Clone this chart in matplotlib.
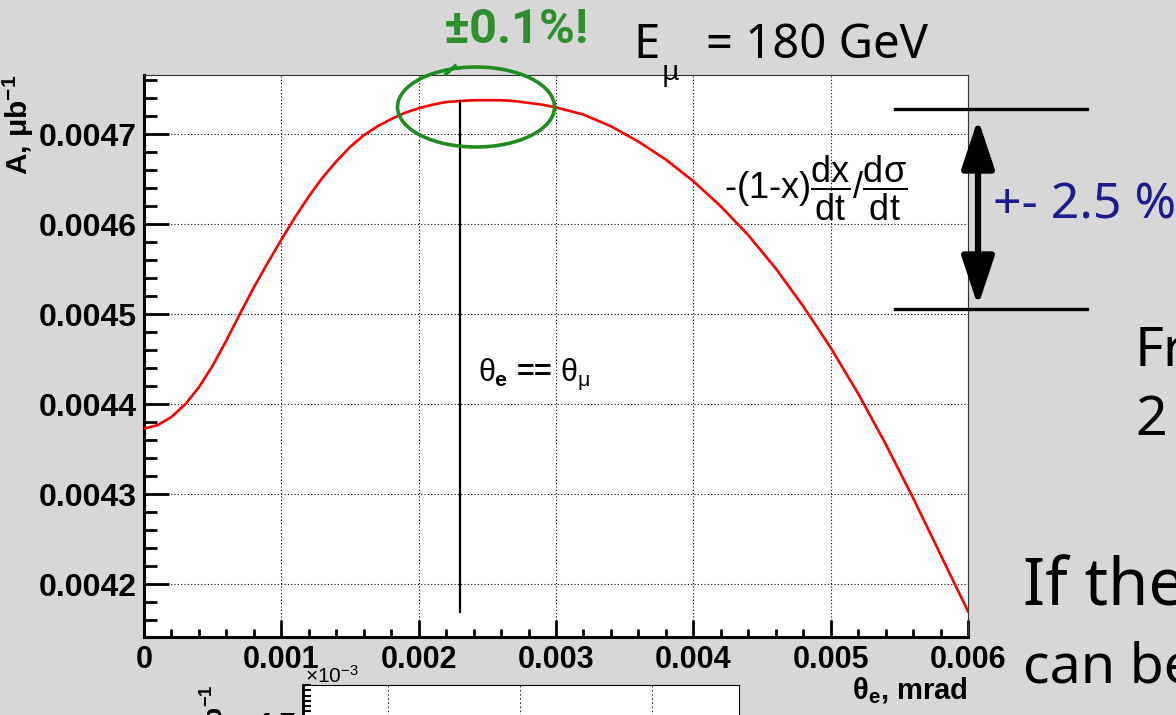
import matplotlib
matplotlib.use("Agg")
import matplotlib.pyplot as plt
from matplotlib.lines import Line2D
from matplotlib.patches import Ellipse, FancyArrowPatch
from matplotlib.ticker import MultipleLocator

W, H = 1176, 715

# curve: A vs theta_e (mrad)
theta_e = [0, 0.0001, 0.0002, 0.0003, 0.0004, 0.0005, 0.0006, 0.0007, 0.0008,
           0.0009, 0.001, 0.0011, 0.0012, 0.0013, 0.0014, 0.0015, 0.0016,
           0.0017, 0.0018, 0.0019, 0.002, 0.0021, 0.0022, 0.0023, 0.0024,
           0.0025, 0.0026, 0.0027, 0.0028, 0.0029, 0.003, 0.0032, 0.0034,
           0.0036, 0.0038, 0.004, 0.0042, 0.0044, 0.0046, 0.0048, 0.005,
           0.0052, 0.0054, 0.0056, 0.0058, 0.006]
asym = [0.004373, 0.004377, 0.004386, 0.004400, 0.004419, 0.004443, 0.004471,
        0.004501, 0.004530, 0.004557, 0.004583, 0.004608, 0.004631, 0.004652,
        0.004670, 0.004686, 0.004699, 0.004709, 0.004717, 0.004724, 0.004729,
        0.004733, 0.004736, 0.004737, 0.004738, 0.004738, 0.004738, 0.004737,
        0.004735, 0.004733, 0.004730, 0.004722, 0.004709, 0.004692, 0.004672,
        0.004648, 0.004620, 0.004588, 0.004551, 0.004509, 0.004463, 0.004412,
        0.004356, 0.004296, 0.004233, 0.004170]

peak_theta = 0.0023
peak_line = [0.004169, 0.004737]

x_ticks = [0, 0.001, 0.002, 0.003, 0.004, 0.005, 0.006]
x_labels = ["0", "0.001", "0.002", "0.003", "0.004", "0.005", "0.006"]
y_ticks = [0.0042, 0.0043, 0.0044, 0.0045, 0.0046, 0.0047]
y_labels = ["0.0042", "0.0043", "0.0044", "0.0045", "0.0046", "0.0047"]

inset_grid = [0, 1, 2]
inset_yticks = [4.3, 4.4, 4.5, 4.6, 4.7]


def fx(px):
    return px / W


def fy(py):
    return 1 - py / H


plt.rcParams["font.family"] = ["Liberation Sans", "DejaVu Sans"]
plt.rcParams["mathtext.fontset"] = "custom"
plt.rcParams["mathtext.rm"] = "Liberation Sans"
plt.rcParams["mathtext.it"] = "Liberation Sans"
plt.rcParams["mathtext.bf"] = "Liberation Sans:bold"

fig = plt.figure(figsize=(W / 100, H / 100), dpi=100)
fig.patch.set_facecolor("#d7d7d7")

ax = fig.add_axes([fx(144), fy(636.5), fx(968) - fx(144), fy(75) - fy(636.5)])
ax.plot(theta_e, asym, color="red", lw=1.9, zorder=3)
ax.plot([peak_theta, peak_theta], peak_line, color="black", lw=1.6, zorder=3)
ax.set_xlim(0, 0.006)
ax.set_ylim(0.004142, 0.004766)
ax.set_xticks(x_ticks)
ax.set_xticklabels(x_labels)
ax.set_yticks(y_ticks)
ax.set_yticklabels(y_labels)
ax.xaxis.set_minor_locator(MultipleLocator(0.0002))
ax.yaxis.set_minor_locator(MultipleLocator(0.00002))
ax.tick_params(which="both", direction="in", top=False, right=False, width=2)
ax.tick_params(axis="x", which="major", length=12, labelsize=22, pad=6)
ax.tick_params(axis="x", which="minor", length=6)
ax.tick_params(axis="y", which="major", length=18, labelsize=23, pad=5)
ax.tick_params(axis="y", which="minor", length=9)
for lab in ax.get_xticklabels() + ax.get_yticklabels():
    lab.set_fontweight("bold")
ax.grid(True, which="major", color="black", lw=0.8, linestyle=(0, (1, 2)))
for side in ["left", "bottom"]:
    ax.spines[side].set_linewidth(2.2)
for side in ["top", "right"]:
    ax.spines[side].set_linewidth(0.8)
    ax.spines[side].set_color("#333333")

ax.text(0.00243, 0.004433, r"$\theta_{\mathbf{e}}$ == $\theta_{\mu}$",
        fontsize=22, fontweight="bold", va="center")
ax.text(0.00422, 0.00464, r"-(1-x)$\dfrac{dx}{dt}/\dfrac{d\sigma}{dt}$",
        fontsize=26, va="center")

fig.text(fx(18), fy(75), r"A, μb$^{\mathbf{-1}}$", rotation=90, ha="center",
         va="top", fontsize=21.5, fontweight="bold")
fig.text(fx(968), fy(691), r"θ$_{\mathbf{e}}$, mrad", ha="right", va="center",
         fontsize=21, fontweight="bold")

# slide annotations
slide = ["Noto Sans", "DejaVu Sans"]
fig.text(fx(444), fy(30), "±0.1%!", family=["Roboto", "DejaVu Sans"],
         fontweight="bold", fontsize=35, color="#2f8f2f", va="center")
fig.text(fx(633), fy(45), "E", family=slide, fontsize=34, va="center")
fig.text(fx(662), fy(73), "μ", family=slide, fontsize=20, va="center")
fig.text(fx(706), fy(45), "= 180 GeV", family=slide, fontsize=34, va="center")
fig.text(fx(993), fy(206), "+- 2.5 %", family=slide, fontsize=36,
         color="#1c1c8e", va="center")
fig.text(fx(1135), fy(351), "Fr", family=slide, fontsize=40, va="center")
fig.text(fx(1135), fy(421), "2", family=slide, fontsize=40, va="center")
fig.text(fx(1023), fy(588), "If the", family=slide, fontsize=47, va="center")
fig.text(fx(1023), fy(668), "can be", family=slide, fontsize=40, va="center")

green = "#1e8c1e"
fig.add_artist(Ellipse((fx(476), fy(107)), fx(157), 80 / H, fill=False,
                       ec=green, lw=2.6, transform=fig.transFigure, zorder=5))
fig.add_artist(Line2D([fx(455), fx(446)], [fy(66), fy(74)], color=green,
                      lw=2.6, transform=fig.transFigure, zorder=5))

for py in [109, 309]:
    fig.add_artist(Line2D([fx(895), fx(1087)], [fy(py), fy(py)], color="black",
                          lw=2.4, transform=fig.transFigure, zorder=5))
fig.add_artist(FancyArrowPatch((fx(978), fy(306)), (fx(978), fy(119)),
                               arrowstyle="<|-|>,head_length=1.5,head_width=0.5",
                               mutation_scale=20, lw=4.5, color="black",
                               shrinkA=0, shrinkB=0, transform=fig.transFigure,
                               zorder=5))

# the next plot on the slide, cut by the bottom edge
ax2 = fig.add_axes([fx(303), fy(985), fx(739) - fx(303), (985 - 685) / H])
ax2.set_facecolor("white")
ax2.set_xlim(-0.64, 2.66)
ax2.set_ylim(4.2, 4.77)
ax2.set_xticks(inset_grid)
ax2.set_xticklabels([])
ax2.set_yticks(inset_yticks)
ax2.set_yticklabels([f"{v:.1f}" for v in inset_yticks])
ax2.yaxis.set_minor_locator(MultipleLocator(0.01))
ax2.tick_params(which="both", direction="in", top=False, right=False, width=1.5)
ax2.tick_params(axis="y", which="major", length=14, labelsize=21, pad=5)
ax2.tick_params(axis="y", which="minor", length=6)
ax2.tick_params(axis="x", length=0)
for lab in ax2.get_yticklabels():
    lab.set_fontweight("bold")
ax2.grid(True, axis="x", color="black", lw=0.6, linestyle=(0, (2, 3)))
ax2.spines["left"].set_linewidth(2)
for side in ["top", "right"]:
    ax2.spines[side].set_linewidth(0.8)
fig.text(fx(305), fy(676), r"×10$^{-3}$", fontsize=15, va="center")
fig.text(fx(215), fy(684), r"A, μb$^{\mathbf{-1}}$", rotation=90, ha="center",
         va="top", fontsize=19, fontweight="bold")

fig.savefig("out.png", dpi=100, facecolor=fig.get_facecolor())
